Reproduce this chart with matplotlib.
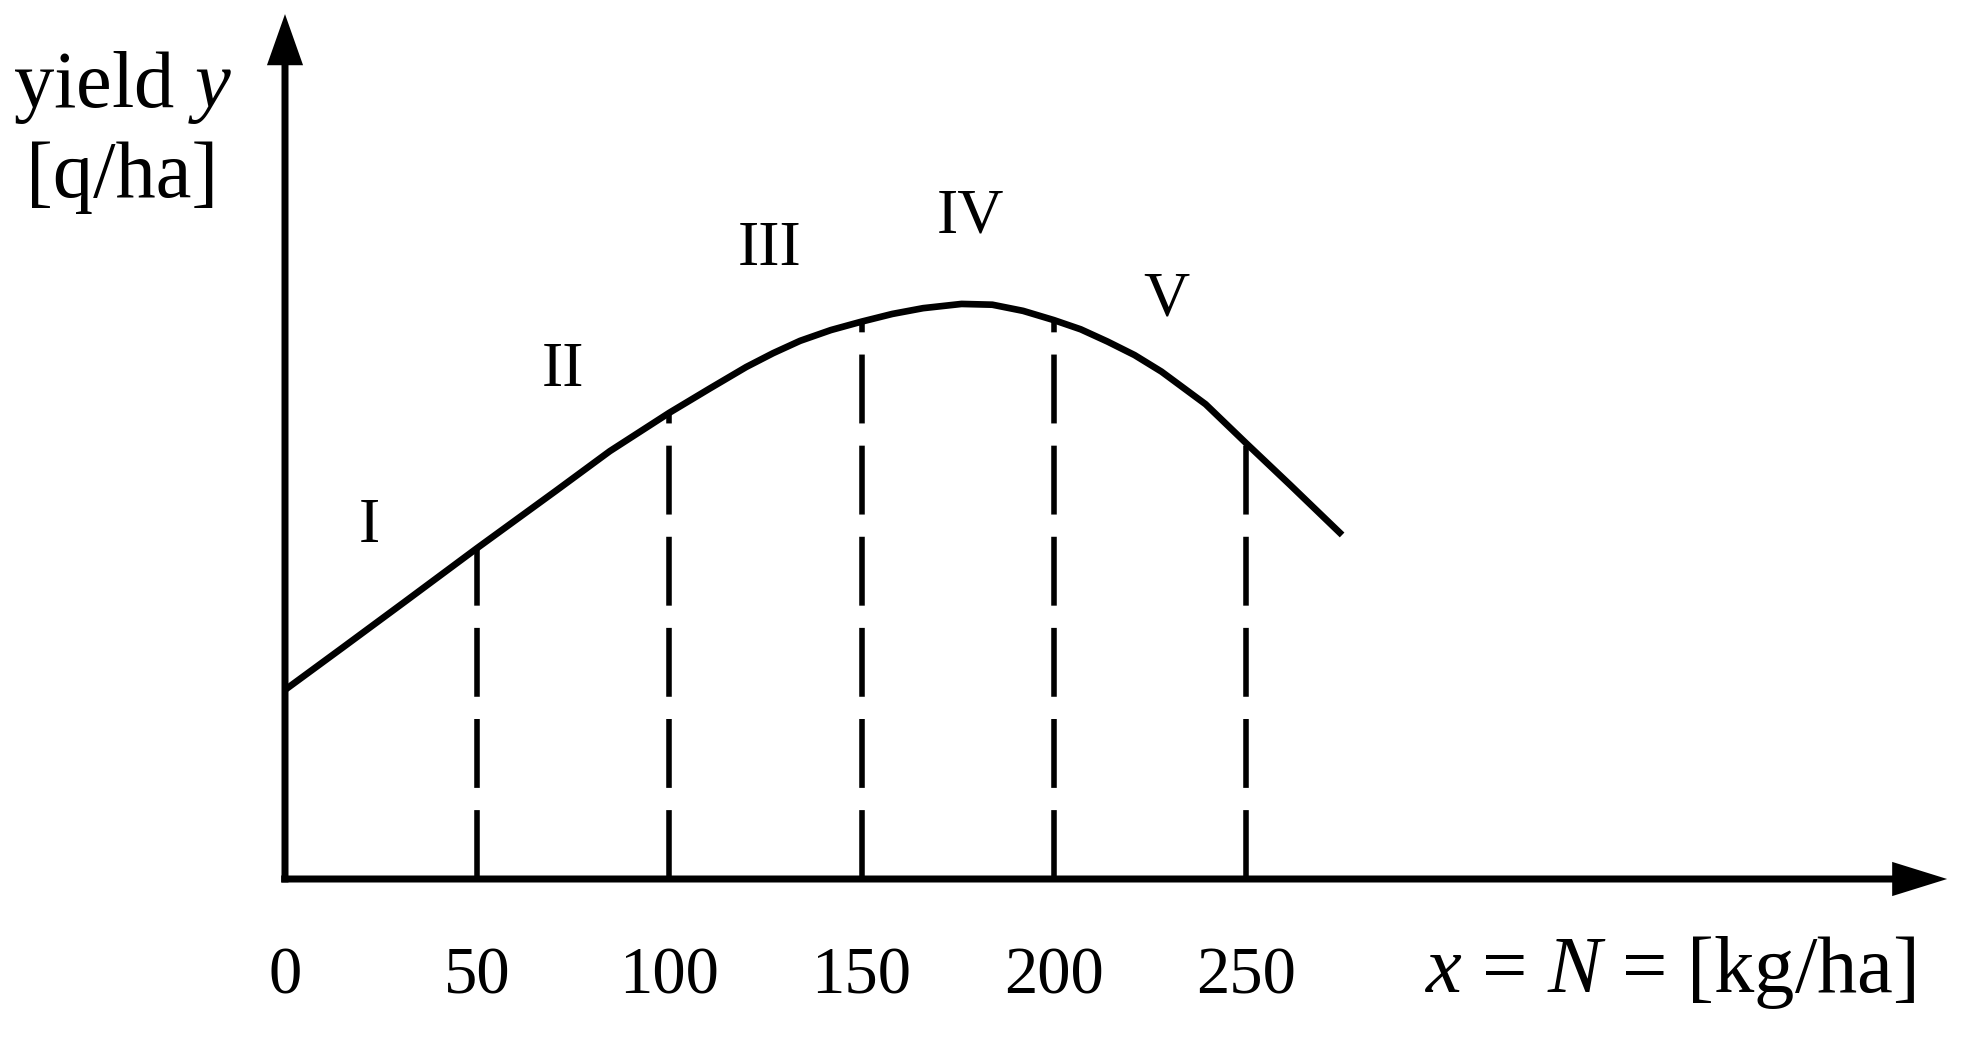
import matplotlib.pyplot as plt

# datos (unidades arbitrarias de rendimiento)
n_dose = [0, 15, 31, 50, 70.5, 84.5, 100, 110.5, 120, 127, 134, 142, 150,
          158, 166, 176, 184, 192, 200, 207, 214, 221, 228, 239.5, 250,
          261.5, 275]
yield_q = [49.2, 60.2, 72.0, 86.1, 101.0, 111.3, 121.3, 127.6, 133.2, 136.8,
           140.0, 142.8, 145.0, 147.0, 148.5, 149.6, 149.4, 147.8, 145.4,
           143.0, 139.8, 136.3, 132.0, 123.5, 113.4, 102.5, 89.5]

bounds = [50, 100, 150, 200, 250]
bound_tops = [86.1, 121.3, 145.0, 145.4, 113.4]

tick_vals = [0, 50, 100, 150, 200, 250]
zone_names = ['I', 'II', 'III', 'IV', 'V']
zone_x = [21.9, 72.3, 126.2, 178.2, 229.4]
zone_y = [87.7, 128.3, 159.7, 168.3, 146.7]

plt.rcParams['font.family'] = ['Liberation Serif', 'DejaVu Serif']
plt.rcParams['mathtext.fontset'] = 'custom'
plt.rcParams['mathtext.rm'] = 'Liberation Serif'
plt.rcParams['mathtext.it'] = 'Liberation Serif:italic'

W, H = 1974, 1046
px = 3.844          # pixeles por unidad
x0, y0 = 285, 879   # origen en pixeles

fig = plt.figure(figsize=(W / 100, H / 100), dpi=100)
ax = fig.add_axes([0, 0, 1, 1])
ax.set_xlim(-x0 / px, (W - x0) / px)
ax.set_ylim(-(H - y0) / px, y0 / px)
ax.axis('off')

# ejes con flechas
ax.arrow(-1, 0, 433.4, 0, width=1.82, head_width=8.9, head_length=14.3,
         length_includes_head=True, color='black', lw=0)
ax.arrow(0, -0.9, 0, 225.9, width=1.82, head_width=9.4, head_length=13.3,
         length_includes_head=True, color='black', lw=0)

# curva de rendimiento
ax.plot(n_dose, yield_q, color='black', lw=4.8, solid_capstyle='butt',
        solid_joinstyle='round')

# lineas divisorias
for b, t in zip(bounds, bound_tops):
    ax.plot([b, b], [0, t], color='black', lw=4, linestyle=(0, (12.4, 4.0)),
            dash_capstyle='butt')

# zonas
for name, zx, zy in zip(zone_names, zone_x, zone_y):
    ax.text(zx, zy, name, fontsize=46, ha='center', va='baseline')

# marcas del eje x
for v in tick_vals:
    ax.text(v, -29.66, str(v), fontsize=48, ha='center', va='baseline')

ax.text(296.6, -29.4, '$x$ = $N$ = [kg/ha]', fontsize=58, ha='left', va='baseline')
ax.text(-42.4, 200.8, 'yield $y$', fontsize=58, ha='center', va='baseline')
ax.text(-42.4, 177.4, '[q/ha]', fontsize=58, ha='center', va='baseline')

fig.savefig('out.png', dpi=100)
